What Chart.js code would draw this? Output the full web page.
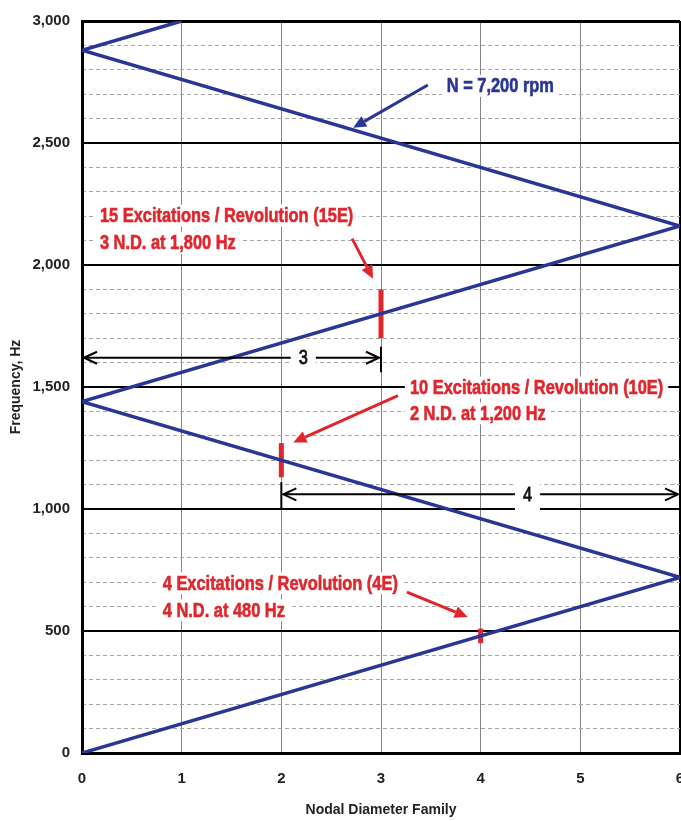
<!DOCTYPE html>
<html>
<head>
<meta charset="utf-8">
<title>Interference diagram</title>
<script src="https://cdn.jsdelivr.net/npm/chart.js@4.4.1/dist/chart.umd.min.js"></script>
<style>
  html, body { margin: 0; padding: 0; background: #fff; overflow: hidden; }
  #wrap { width: 681px; height: 821px; }
</style>
</head>
<body>
<div id="wrap"><canvas id="chart"></canvas></div>
<script>
// Speed line N = 7,200 rpm folded across the nodal diameter range
const nodalDiameters = [0, 6, 0, 6, 0, 1];
const frequencies = [0, 720, 1440, 2160, 2880, 3000];

// Red crossing marks (4E, 10E, 15E)
const markerND = [4, 2, 3];
const markerLow = [450, 1130, 1700];
const markerHigh = [510, 1270, 1900];

// Axis ticks
const xTicks = [0, 1, 2, 3, 4, 5, 6];
const yMajorStep = 500;
const yMinorStep = 100;

const BLUE = '#2b3595';
const RED = '#e0262d';
const SANS = '"Liberation Sans", Arial, sans-serif';
const NARROW_X = 0.82;   // horizontal squeeze to mimic a narrow face

// Annotations, placed in data units
const labels = [
  { lines: ['15 Excitations / Revolution (15E)', '3 N.D. at 1,800 Hz'], x: 0.18, y: [2202, 2091], color: RED },
  { lines: ['10 Excitations / Revolution (10E)', '2 N.D. at 1,200 Hz'], x: 3.29, y: [1498, 1392], color: RED },
  { lines: ['4 Excitations / Revolution (4E)', '4 N.D. at 480 Hz'], x: 0.81, y: [696, 585], color: RED },
  { lines: ['N = 7,200 rpm'], x: 3.66, y: [2734], color: BLUE }
];
const pointers = [
  { from: [3.47, 2738], to: [2.72, 2562], color: BLUE },
  { from: [2.71, 2108], to: [2.92, 1944], color: RED },
  { from: [3.17, 1465], to: [2.12, 1273], color: RED },
  { from: [3.26, 659], to: [3.87, 557], color: RED }
];
const spans = [
  { x0: 0, x1: 3, y: 1620, text: '3', textX: 2.22, tickAt: 3, tick: [1560, 1665] },
  { x0: 2, x1: 6, y: 1060, text: '4', textX: 4.47, tickAt: 2, tick: [1000, 1110] }
];

function filledArrow(ctx, x0, y0, x1, y1, color) {
  const a = Math.atan2(y1 - y0, x1 - x0);
  const len = 13, half = 6;
  const bx = x1 - len * Math.cos(a), by = y1 - len * Math.sin(a);
  ctx.strokeStyle = color;
  ctx.fillStyle = color;
  ctx.lineWidth = 3;
  ctx.beginPath();
  ctx.moveTo(x0, y0);
  ctx.lineTo(bx, by);
  ctx.stroke();
  ctx.beginPath();
  ctx.moveTo(x1, y1);
  ctx.lineTo(bx + half * Math.sin(a), by - half * Math.cos(a));
  ctx.lineTo(bx - half * Math.sin(a), by + half * Math.cos(a));
  ctx.closePath();
  ctx.fill();
}

function openHead(ctx, x, y, dir) {
  ctx.beginPath();
  ctx.moveTo(x - dir * 13, y - 6);
  ctx.lineTo(x, y);
  ctx.lineTo(x - dir * 13, y + 6);
  ctx.stroke();
}

// squeezed text, with a hairline stroke to thicken the strokes a little
function narrowText(ctx, text, x, y, weight) {
  ctx.save();
  ctx.translate(x, y);
  ctx.scale(NARROW_X, 1);
  ctx.fillText(text, 0, 0);
  if (weight) {
    ctx.strokeStyle = ctx.fillStyle;
    ctx.lineWidth = weight;
    ctx.strokeText(text, 0, 0);
  }
  ctx.restore();
}

const annotationPlugin = {
  id: 'annotations',
  afterDatasetsDraw(chart) {
    const { ctx } = chart;
    const sx = chart.scales.x, sy = chart.scales.y;
    const px = v => sx.getPixelForValue(v);
    const py = v => sy.getPixelForValue(v);
    ctx.save();

    // dimension spans
    spans.forEach(s => {
      ctx.strokeStyle = '#000';
      ctx.lineWidth = 2;
      const y = py(s.y);
      ctx.beginPath();
      ctx.moveTo(px(s.x0) + 2, y);
      ctx.lineTo(px(s.x1) - 2, y);
      ctx.stroke();
      openHead(ctx, px(s.x0) + 2, y, -1);
      openHead(ctx, px(s.x1) - 2, y, 1);
      ctx.beginPath();
      ctx.moveTo(px(s.tickAt), py(s.tick[0]));
      ctx.lineTo(px(s.tickAt), py(s.tick[1]));
      ctx.stroke();
      ctx.font = '20px ' + SANS;
      const w = ctx.measureText(s.text).width * NARROW_X;
      const tx = px(s.textX);
      ctx.fillStyle = '#fff';
      ctx.fillRect(tx - w / 2 - 8, y - 12, w + 16, 28);
      ctx.fillStyle = '#111';
      ctx.textAlign = 'left';
      ctx.textBaseline = 'middle';
      narrowText(ctx, s.text, tx - w / 2, y + 1, 0.8);
    });

    // pointer arrows
    pointers.forEach(p => filledArrow(ctx, px(p.from[0]), py(p.from[1]), px(p.to[0]), py(p.to[1]), p.color));

    // text labels on white boxes
    ctx.font = 'bold 20px ' + SANS;
    ctx.textAlign = 'left';
    ctx.textBaseline = 'middle';
    labels.forEach(l => {
      l.lines.forEach((t, i) => {
        const x = px(l.x), y = py(l.y[i]);
        const w = ctx.measureText(t).width * NARROW_X;
        ctx.fillStyle = '#fff';
        ctx.fillRect(x - 5, y - 11, w + 10, 22);
        ctx.fillStyle = l.color;
        narrowText(ctx, t, x, y + 1, 0.6);
      });
    });
    ctx.restore();
  }
};

const speedLine = nodalDiameters.map((nd, i) => ({ x: nd, y: frequencies[i] }));
const markerSets = markerND.map((nd, i) => ({
  data: [{ x: nd, y: markerLow[i] }, { x: nd, y: markerHigh[i] }],
  showLine: true,
  borderColor: RED,
  borderWidth: 5,
  pointRadius: 0,
  borderCapStyle: 'butt'
}));

const tickFont = { family: SANS, size: 15, weight: 'bold' };
const titleFont = { family: SANS, size: 14, weight: 'bold' };

new Chart(document.getElementById('chart'), {
  type: 'scatter',
  data: {
    datasets: [
      { data: speedLine, showLine: true, borderColor: BLUE, borderWidth: 3.5, pointRadius: 0, tension: 0 },
      ...markerSets
    ]
  },
  options: {
    responsive: true,
    maintainAspectRatio: false,
    animation: false,
    layout: { padding: { top: 20, left: 4, right: 0, bottom: 0 } },
    plugins: { legend: { display: false }, tooltip: { enabled: false } },
    scales: {
      x: {
        type: 'linear',
        min: xTicks[0],
        max: xTicks[xTicks.length - 1],
        afterBuildTicks: s => { s.ticks = xTicks.map(v => ({ value: v })); },
        afterFit: s => { s.height = 68; s.paddingLeft = 0; s.paddingRight = 1; },
        ticks: { color: '#222', font: tickFont, padding: 17 },
        grid: {
          color: c => (c.tick && (c.tick.value === 0 || c.tick.value === 6)) ? '#000' : '#858585',
          lineWidth: c => (c.tick && c.tick.value === 6) ? 3 : 1,
          drawTicks: false
        },
        border: { color: '#000', width: 3 },
        title: { display: true, text: 'Nodal Diameter Family', color: '#222', font: titleFont, padding: { top: 12, bottom: 2 } }
      },
      y: {
        min: 0,
        max: 3000,
        afterFit: s => { s.width = 78; },
        ticks: { stepSize: yMajorStep, color: '#222', font: tickFont, padding: 12,
                 callback: v => v.toLocaleString('en-US') },
        grid: { color: '#000', lineWidth: c => (c.tick && c.tick.value === 3000) ? 3 : 2, drawTicks: false },
        border: { color: '#000', width: 3 },
        title: { display: true, text: 'Frequency, Hz', color: '#222', font: titleFont, padding: { top: 4, bottom: 10 } }
      },
      yMinor: {
        position: 'left',
        min: 0,
        max: 3000,
        ticks: { stepSize: yMinorStep, display: false },
        grid: {
          color: c => (c.tick && c.tick.value % yMajorStep === 0) ? 'rgba(0,0,0,0)' : '#a5a5a5',
          lineWidth: 1,
          drawTicks: false
        },
        border: { display: false, dash: [4, 3] },
        afterFit: s => { s.width = 0; }
      }
    }
  },
  plugins: [annotationPlugin]
});
</script>
</body>
</html>
